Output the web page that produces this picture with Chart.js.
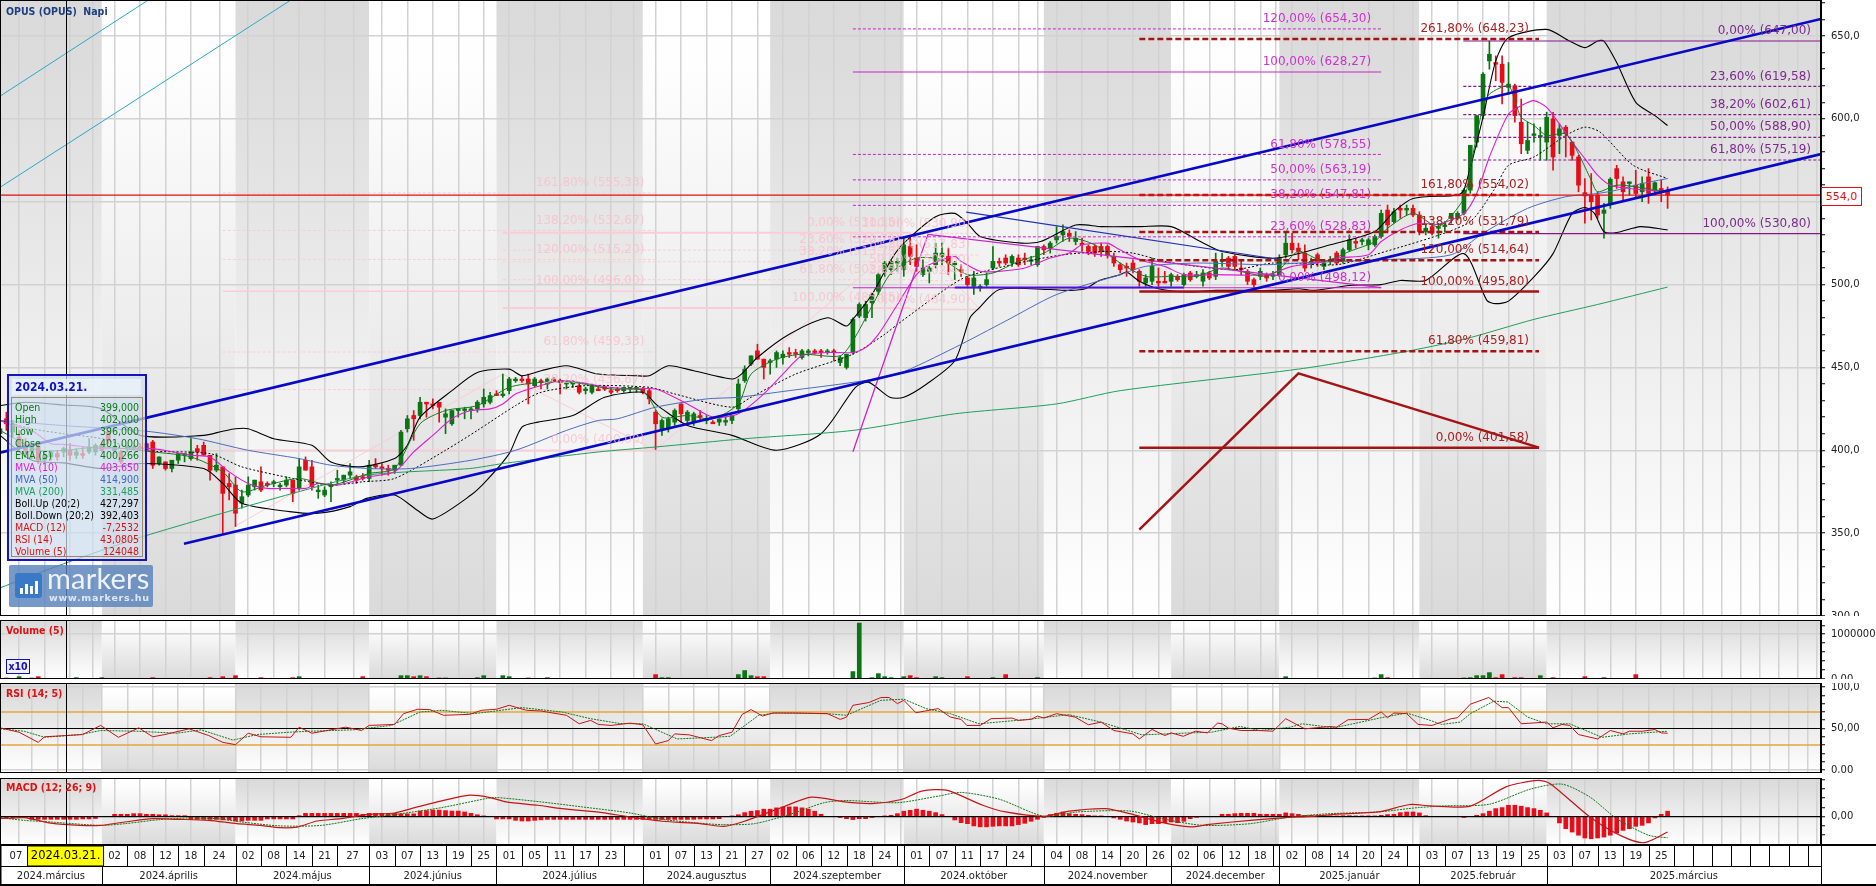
<!DOCTYPE html>
<html>
<head>
<meta charset="utf-8">
<title>OPUS (OPUS) Napi</title>
<script src="https://cdn.jsdelivr.net/npm/chart.js@4"></script>
<style>
html, body { margin: 0; padding: 0; background: #fff; overflow: hidden; }
canvas { position: absolute; left: 0; }
#mainChart { top: 0; }
#volChart { top: 620px; }
#rsiChart { top: 683px; }
#macdChart { top: 778px; }
#stripChart { top: 844px; }
.tag { position: absolute; font: bold 10.5px "DejaVu Sans Condensed", "DejaVu Sans", sans-serif; color: #e01010; white-space: pre; }
#priceBox { position: absolute; left: 1821px; top: 187px; width: 39px; height: 17px; border: 1px solid #e01010; background: #fff; color: #e01010; font: 11px/17px "DejaVu Sans", sans-serif; text-align: center; }
#x10 { position: absolute; left: 6px; top: 659px; width: 22px; height: 13px; border: 1px solid #1010c0; color: #1010c0; background: #f0f0f5; font: bold 10.5px/13px "DejaVu Sans Condensed", sans-serif; text-align: center; }
#info { position: absolute; left: 7px; top: 374px; width: 136px; height: 183px; border: 2px solid #1414c0; background: rgba(205,222,238,.72); }
#infoDate { position: absolute; left: 3px; top: 3px; width: 129px; height: 16px; background: rgba(235,243,250,.8); color: #1010c8; font: bold 12px/16px "DejaVu Sans Condensed", sans-serif; text-indent: 3px; }
#infoRows { position: absolute; left: 2px; top: 21px; width: 130px; height: 158px; border: 1px solid #a08468; }
.row { position: absolute; left: 3px; right: 3px; height: 12px; font: 10.5px/12px "DejaVu Sans Condensed", sans-serif; white-space: nowrap; display: flex; justify-content: space-between; }
#logo { position: absolute; left: 9px; top: 565px; width: 144px; height: 42px; background: rgba(88,130,188,.82); border-radius: 2px; color: #fff; }
#logoIcon { position: absolute; left: 6px; top: 8px; width: 27px; height: 25px; background: #3a78c8; border-radius: 3px; }
#logoIcon i { position: absolute; bottom: 4px; width: 3px; background: #fff; }
#logoName { position: absolute; left: 38px; top: -5px; font: 400 29px/36px Lato, "Open Sans", sans-serif; letter-spacing: .2px; color: #eef3fa; }
#logoUrl { position: absolute; left: 40px; top: 27px; font: bold 9.5px/12px "DejaVu Sans", sans-serif; letter-spacing: .75px; color: #dfe8f4; }
</style>
</head>
<body>
<canvas id="mainChart" width="1876" height="616"></canvas>
<canvas id="volChart" width="1876" height="59"></canvas>
<canvas id="rsiChart" width="1876" height="90"></canvas>
<canvas id="macdChart" width="1876" height="67"></canvas>
<canvas id="stripChart" width="1876" height="42"></canvas>

<div class="tag" style="left:6px;top:5px;color:#1c3f80">OPUS (OPUS)  Napi</div>
<div class="tag" style="left:6px;top:624px">Volume (5)</div>
<div class="tag" style="left:6px;top:687px">RSI (14; 5)</div>
<div class="tag" style="left:6px;top:781px">MACD (12; 26; 9)</div>
<div id="x10">x10</div>
<div id="priceBox">554,0</div>

<div id="info">
  <div id="infoDate">2024.03.21.</div>
  <div id="infoRows"></div>
</div>
<div id="logo">
  <div id="logoIcon"><i style="left:5px;height:6px"></i><i style="left:10px;height:10px"></i><i style="left:15px;height:8px"></i><i style="left:20px;height:13px"></i></div>
  <div id="logoName">markers</div>
  <div id="logoUrl">www.markers.hu</div>
</div>

<script>
// ---- candles, one entry per trading day
const opens = [
410,419,411,408,403,399,402,394,396,398,
399,400,397,398,399,399,403,411,400,399,
401,401,402,404,405,392,393,389,394,397,
395,401,403,397,388,390,380,379,368,373,
378,381,380,380,378,379,382,377,394,390,
375,373,378,382,382,385,384,384,383,391,
390,389,388,391,413,421,421,429,428,429,
420,416,424,424,424,425,428,429,434,433,
436,442,443,443,439,442,440,443,442,440,
440,439,436,435,437,438,436,437,436,437,
437,437,436,423,413,413,417,428,418,417,
421,418,417,417,417,418,425,442,452,460,
455,453,455,456,459,459,456,459,460,460,
459,460,453,450,459,481,480,489,496,508,
509,513,509,523,516,506,508,512,517,517,
512,509,504,499,498,500,510,514,516,513,
516,516,514,512,523,522,527,530,531,526,
525,523,523,523,523,517,512,511,513,508,
501,502,502,502,502,505,500,507,505,502,
507,505,514,516,517,510,508,503,505,506,
505,506,518,525,522,519,513,518,511,514,
519,514,521,526,526,524,524,529,545,538,
546,545,546,542,532,535,534,535,540,540,
543,557,586,602,635,634,633,619,620,598,
581,590,589,586,600,590,595,586,577,555.5,
554,554,543,549,570,562,561,560,556,565,
556.5,558,557];
const highs = [
415,423,418,412,407,404,404,399,400,400,
402,404,401,402,407,404,405,412,403,400,
403,403,404,405,406,396,393,394,398,398,
407,403,405,397,398,390,386,384,376,384,
382,390,381,382,380,384,382,395,396,394,
379,378,381,388,385,392,385,386,394,395,
392,391,391,412,421,424,432,429,431,429,
425,424,425,426,426,430,437,435,436,446,
444,444,445,446,444,443,444,444,443,442,
442,440,438,440,439,439,438,438,438,438,
438,438,437,424,419,420,425,428,424,423,
424,421,418,419,420,421,443,451,457,464,
455,455,460,460,462,461,461,461,461,461,
461,461,457,458,480,489,490,495,507,514,
515,516,529,529,524,515,511,525,525,522,
514,512,505,508,500,507,523,516,518,518,
518,519,517,523,524,526,535,536,533,532,
528,524,524,525,524,519,513,513,515,509,
506,516,510,508,507,506,507,508,508,509,
508,519,519,517,518,514,509,504,510,507,
508,518,532,531,525,524,516,519,514,517,
520,522,530,528,528,528,530,545,548,546,
548,548,548,544,536,537,537,538,543,544,
558,584,602,628,647,638,638,634,621,612,
598,597,595,604,604,597,596,586,578,564,
567,556,549,564.5,572,565,562,569,565,570,
562,563,559];
const lows = [
406,412,408,400,398,395,392,392,394,394,
396,394,395,395,398,397,399,404,398,392,
399,400,400,399,389,391,388,387,392,393,
394,394,397,382,387,350,370,354,365,372,
376,375,378,378,376,378,369,376,388,376,
371,372,369,380,380,383,380,382,381,389,
385,385,386,391,411,406,419,420,425,417,
410,415,420,419,419,423,426,428,433,432,
434,441,441,428,438,437,437,441,434,437,
438,434,434,434,436,436,434,435,435,435,
435,434,428,400.5,409,411,415,417,415,415,
418,416,416,415,415,416,424,441,451,455,
443,446,450,452,456,456,455,457,458,456,
458,454,451,449,458,480,478,480,494,505,
506,508,505,512,508,505,501,510,512,506,
503,505,499,494,496,499,509,511,512,511,
511,512,512,511,518,519,525,526,526,524,
520,518,517,517,516,511,507,505,507,499,
499,500,499,501,499,502,499,502,504,499,
503,503,511,509,509,506,500,497,503,502,
503,505,516,519,515,508,510,511,509,512,
512,513,520,522,524,521,523,528,532,537,
540,542,541,530,530,530,528,532,537,539,
542,555,583,600,630,623,609,615,598,579,
579,586,575,575,569,579,577,575,556,537,
539,540,528,546,558,550,554,552,550,549,
554,550,546];
const closes = [
413,416,416,403,400,402,394,397,399,396,
401,397,399,397,402,403,400,406,402,393,
402,402,401,400,391,396,389,394,398,398,
399,399,397,388,391,374,378,362,372,379,
382,376,379,381,379,382,374,390,388,378,
376,376,379,383,385,387,382,383,391,390,
389,388,391,411,419,419,429,428,427,426,
422,424,425,425,425,429,432,433,433,434,
443,443,442,440,443,441,443,442,441,441,
441,435,437,439,436,437,435,436,438,438,
438,435,431,416,418,419,424,422,423,422,
420,419,416,419,418,421,440,449,457,455,
450,454,459,458,458,458,460,460,459,459,
460,459,456,458,479,488,488,494,506,513,
514,514,524,517,511,510,510,519,519,513,
513,508,500,504,499,503,514,513,513,517,
512,515,515,523,521,525,529,532,529,528,
524,520,519,520,518,513,509,510,509,502,
504,511,501,501,506,503,506,503,506,507,
504,514,515,511,511,509,502,500,508,504,
506,516,525,521,520,510,514,514,513,515,
513,521,527,525,527,527,529,543,536,544,
545,546,542,532,534,531,535,536,543,543,
557,584,602,627,639,633,622,621,602,585,
587,591,590,601,577,594,591,578,560,553.5,
550,542,545,563.6,564,556,562,555,561,555,
561.5,555.5,554];

const emaDays = [0,6,10,16,24,30,35,38,42,47,52,58,62,66,70,75,80,85,90,96,101,104,108,112,116,118,122,126,132,134,137,140,144,148,152,156,160,164,168,172,176,180,184,188,192,196,199,201,204,208,212,216,218,222,226,230,231,232,233,234,237,238,239,241,243,246,248,250,251,254,257,262];
const emaVals = [412,400,400,402,399,396,387,375,379,383,379,386,389,416,424,427,438,441,441,437,436,420,421,419,428,446,455,458,457,466,487,507,516,515,506,507,514,519,528,524,513,505,505,505,510,507,505,509,520,514,520,526,534,543,535,552,570,590,607,615,620,611,601,596,590,591,579,563,556,560,559,556];

const mva10Days = [0,2,5,8,10,16,24,30,33,36,39,42,45,48,50,53,58,62,65,68,71,74,77,79,81,84,88,91,94,99,103,108,112,116,120,123,126,130,134,136,138,141,144,146,150,151,154,157,161,165,168,170,174,175.5,179,183,186,191,199,203,207,210,215,217,220,223,226,230,232,234,237,239,241,243,245,247,249,251,253,256,262];
const mva10Vals = [418,415,412,404,403.6,401,401,397,396,387,380,377,377,377,380,379,384,387,399,409,419,424,425,428,434,438,442,441,439,437,437,428,420,422,434,446,457,459,459,462,470,488,506,512,517,514,508,508,510,516,519,524,525,522,515,511,506,506,506,511,513,516,518,526,533,537,536.4,543,555,577,603,608,611,607,597,586,576,566,560,558,556];

const mva50Days = [0,10,23,31,39,47,52,58,64.5,74,81,89,94,97,103,111,116,124,134,141,150,158,166,176,180,188,199,204,217,228,233,240,246,251,254,258,262];
const mva50Vals = [418,414.9,411.5,407,400,395,391,389,389,394,400,412,418,419,426,431,432,436,441,446,462,478,494,506,511,513,512,513,515,518,531,546,553,555,557,561,564];

const mva200Days = [0,10,22.5,46,57.6,73.8,79,94,103,117,134,150,166,176,204,220,230,241,251,262];
const mva200Vals = [317,331.5,348,374,385,389,392,399,402,407,412,422,428,436,449,459,467,479,488,498.5];

// ---- Bollinger bands and their middle line
const bollUpDays = [0,4,10,16,22,32,35,37,39,43,49,52,56.5,62,64,66,71,75,80,82,85,89,94,100,102,105,109,115,116.5,119,124,130,133,134,137,140,142,147,150,152,154,160.5,163.5,169,173,179,184,188.6,192,200.5,209,216,219,222,229,230,233,235,237,243,246.6,249,251,252,254,257,260,262];
const bollUpVals = [427,429,427.3,425,409,409,411.5,413,413,407,403,393,390,395,403,420,436,447,449,445,448,451,446,445,445,451,448,443,446,456,470,480,475,479,494,515,525,541,543,537,529,525,526,536,535,535,535,526,520,516,524,532,544,552,554,557,601,635,649,654,647,643,647,647,634,610,602,596];
const bollDownDays = [0,5,10,16,22,32,35,38,45.5,50,55,57.6,62,65.5,68,74,76.5,80,82,84.5,90,95,101,103,104,108,115,122,129,134.4,136.5,139.8,142,145.6,150,152.4,153.6,157,165,168,170.5,172.8,176,177,179,182,186.5,191,200,204,206.6,212,217,220,224,230,233.6,235,237,241,244,247,249,250.5,252,254,257.7,262];
const bollDownVals = [409,394,392.4,389,392,389,380,368,363,362,366,371,373,364,358.5,373,382,398,414,417,421,432,435,428,425,415,409,400,410,438,441,432,432,440,454,480,485,497,497,496.5,497.5,502.6,506,507.6,502,497.5,495.5,496.5,496.5,497.5,496.5,499.5,500,502.5,502.5,518.7,490.5,488.5,490,504.6,518.7,543,546.5,543,532,531.4,535,533];
const bollMidDays = [0,5,10,16,22,33,38,46,52,57,62,70,75,81,85,92,102,106,115,118,125,134,139,141,149,152,160,167,174,178,183,188,194,200,210,216,230.6,234.7,237,241,246,249,251.4,256.6,262];
const bollMidVals = [418,413,410,407,400,398,390,383,379,381,383,400,412,427,435,439,438,434,426,432,446,458,470,476,498.5,505,513,518,520,519,514,511,509,513,512,518,537,557,572,577,590,595,592,572,564];

// ---- drawn trend lines
const upperChannelDays = [0,286.1];
const upperChannelVals = [398.6,660.3];
const lowerChannelDays = [28.9,286.1];
const lowerChannelVals = [343.6,578.7];
const tealOneDays = [0,23.3];
const tealOneVals = [613.7,671.75];
const tealTwoDays = [0,45.7];
const tealTwoVals = [558.7,671.75];
const thinBlueDays = [151.8,200.8];
const thinBlueVals = [543.7,515.3];
const flatBlueDays = [150,186];
const flatBlueVals = [498.3,498.3];
const lastPrice = 554;
const priceLineDays = [0,286.1];

// ---- fibonacci sets
const redFibDays = [179,241.8];
const redFibVals = [648.23,554.02,531.79,514.64,495.80,459.81,401.58];
const redFibLabels = ["261,80% (648,23)","161,80% (554,02)","138,20% (531,79)","120,00% (514,64)","100,00% (495,80)","61,80% (459,81)","0,00% (401,58)"];
const redFibSolid = [495.80,401.58];
const redLegDays = [179,204,241.8];
const redLegVals = [352.1,446.4,401.58];

const magentaFibDays = [134,217];
const magentaFibVals = [654.30,628.27,578.55,563.19,547.81,528.83,498.12];
const magentaFibLabels = ["120,00% (654,30)","100,00% (628,27)","61,80% (578,55)","50,00% (563,19)","38,20% (547,81)","23,60% (528,83)","0,00% (498,12)"];
const magentaFibSolid = [628.27,498.12];
const magentaLegDays = [134,145.8,217];
const magentaLegVals = [399.1,530.3,498.2];

const purpleFibDays = [229.9,286.1];
const purpleFibVals = [647.00,619.58,602.61,588.90,575.19,530.80];
const purpleFibLabels = ["0,00% (647,00)","23,60% (619,58)","38,20% (602,61)","50,00% (588,90)","61,80% (575,19)","100,00% (530,80)"];
const purpleFibSolid = [647.00,530.80];

const paleOneDays = [35,102.8];
const paleOneVals = [555.33,532.67,515.20,496.00,459.33,436.67,400.00];
const paleOneLabels = ["161,80% (555,33)","138,20% (532,67)","120,00% (515,20)","100,00% (496,00)","61,80% (459,33)","38,20% (436,67)","0,00% (400,00)"];
const paleOneSolid = [496.00,400.00];
const paleOneLegDays = [35,79,103];
const paleOneLegVals = [350,446,400];

const paleTwoDays = [79,143];
const paleTwoVals = [531.35,520.79,513.75,502.95,485.85];
const paleTwoLabels = ["0,00% (531,35)","23,60% (520,79)","38,20% (513,75)","61,80% (502,95)","100,00% (485,85)"];
const paleTwoSolid = [531.35,485.85];
const paleTwoLegDays = [103,143,154];
const paleTwoLegVals = [400.4,530,485];

const paleThreeDays = [136,154];
const paleThreeVals = [530.90,517.83,508.60,502.41,484.90];
const paleThreeLabels = ["100,00% (530,90)","61,80% (517,83)","50,00% (508,60)","38,20% (502,41)","0,00% (484,90)"];
const paleThreeSolid = [530.90,484.90];

// ---- volume, up days and down days
const volUpDays = [3,12,16,47,63,64,66,70,75,76,79,80,86,104,105,116,117,118,134,135,137,138,139,140,142,147,148,156,163,202,216,217,230,231,232,233,234,242,252];
const volUpVals = [52000,30000,30000,52000,75000,75000,75000,23000,30000,75000,75000,52000,30000,30000,30000,98000,189000,75000,166000,1250000,30000,120000,52000,30000,52000,52000,30000,30000,30000,52000,23000,98000,23000,30000,75000,75000,143000,75000,30000];
const volDownDays = [1,5,6,24,33,35,37,41,46,57,65,67,69,83,103,119,120,143,144,152,158,218,235,236,238,239,244,249,257];
const volDownVals = [23000,23000,52000,30000,30000,52000,75000,30000,30000,52000,52000,52000,23000,23000,98000,52000,52000,75000,30000,52000,98000,30000,30000,98000,30000,30000,30000,52000,98000];

// ---- RSI
const rsiDays = [0,3,6,7,10.4,13,15.8,18.6,21.8,24,25.9,29.7,32.8,35,37,39,41,45.7,47,49,54.3,56.8,58,62,63.4,65.6,67.5,69.7,73.8,75.7,78,80,82.7,85,89,91,92.8,94,96,99,101,103,105,106,108.3,111.8,113,115,116.6,118,119.8,121.4,125,130,132,133,134,136.5,138.4,139.7,141,142,143.9,147.4,149.3,151,151.9,154,155.7,159,160,162,163,164,166,168.9,171,173,175,178,179,181,183,184,185.9,187.8,189.7,191.3,192,193,195,197.7,200,202,205,209,210,211.8,215,217,218,219,221,222.8,225,228,229,231,233.9,236,237,239,243,244,245.4,246.6,248,251,253,255,256,258,260,261,262];
const rsiVals = [50.8,45.5,33.3,40,41.5,42.7,53.7,39.4,50.8,40,42.7,49.6,41.5,33.3,30.5,44.3,40,39.4,51.6,44.3,51.6,47.6,53.7,54.9,67.9,73.2,72.8,65.9,67.1,72,73.2,78,72,71.1,65.9,55.7,59.8,54.9,53.7,56.5,54.5,31.3,35.4,43.5,42.3,35.4,41.5,45.5,67,72.8,65,68.7,68.7,67.9,61,63.8,78,81.3,87.4,87.4,80,84,69,74,63.8,61,53.7,53.7,61.8,62.6,59.8,61,65,62.6,67.9,63.8,54.5,57.7,47.6,43.5,37.4,48.8,41.5,44.7,40.6,46.7,44.7,56.5,55.7,50.4,47.6,47.6,46.7,61.8,49.6,52.4,51.6,60.6,61,70,63,68.7,67.9,54.9,53.7,61.8,63,79.3,87.4,75.2,75.2,55.7,57.7,50.8,54.9,53.7,42.7,37.4,47.6,43.5,46.7,46.7,48.8,44.7,44.3];
const rsiSignalDays = [0,3.8,7,12.6,15.8,21.5,27.8,31.6,36.6,40.4,45.4,48.6,55.5,61.5,66,69.4,74.5,82,88.3,92.8,97.4,101,106.4,112,114.7,119.2,121.8,130,133,138.4,142,145.5,149.3,153.8,161.5,167.9,173,179.4,187,190.3,194.8,198,202.7,204.6,209.6,217,221,224.7,226.5,229.4,231,234.7,236.9,240,243,246.6,251.7,256,262];
const rsiSignalVals = [49.6,46.7,39.4,42.7,47.6,46.7,44.3,48.4,36,42.7,45.5,46.7,48.4,53.7,69.9,72,67.9,75.2,69.9,61.8,56,55.7,37.4,39.4,40.6,65.9,68.7,67.9,65.9,84,85.4,74,67.9,55.7,61,66.7,57.7,42.3,44.7,45.5,52.4,47.6,51.6,55.7,50.8,63,68.7,59.8,54.9,57.7,67.9,83,82,63.8,55.7,55.7,39.4,43.5,46.7];
const rsiLevels = [70,50,30];

// ---- MACD
const macdDays = [0,3.8,8,12.6,15.8,19.6,24,27.8,32.8,37.2,41,44,46.7,49.8,53.6,58,62,65.6,69.4,73.8,77,79.5,84.5,88.3,94.6,99,104,110,113.7,116.6,123,127.5,132.7,137,141.6,144.8,148.7,154.4,158,164,168,173.7,177.5,182.7,187,190,196.4,202,206,209.6,216.5,221.5,224.7,231,236.6,241.6,243.5,249.8,254.8,258.3,262];
const macdVals = [-2.2,-1.1,-6.9,-9.4,-9.4,-5.8,-2.2,-2.9,-4,-7.6,-9.4,-11.9,-11.2,-4.7,-2.2,2.5,3.9,10.4,16.9,23,20.5,15.8,12.2,8.6,4.3,-0.4,-5,-7.6,-10.4,-5.8,10.4,21,15.8,14,18.4,27.4,28.4,12.2,5,0.4,6,8.6,3.2,-6.5,-11,-8.3,-4,-1,0.3,2.5,5,13,11.5,11.2,32,39,35.6,-0.4,-21,-28,-16.6];
const macdSignalDays = [0,3.8,8,15.8,19.6,25,29.7,34,38,44,50.5,56.8,63,69.4,76.4,78,85,91.5,99,104,109,113.4,118.5,124,129.5,133,141,147.4,151,157,164,169.2,177.5,183,189,196.4,202.7,209,216.5,222.8,227,234,240.4,245.4,249.8,254,259,262];
const macdSignalVals = [-1.1,-4,-5.8,-9.4,-7.6,-3.3,-1.5,-2.2,-5.8,-10,-9.4,-2.2,3.2,9.7,19.4,20.5,15.8,10.4,3.9,-2.9,-6.5,-8.6,-7.6,2.2,15,17.3,15,22,26,18.7,0.4,5,6,-2.9,-9.4,-7.6,-0.4,3.2,5,9.7,11.5,13.3,29.5,34.9,21,-2.2,-20,-22.7];
const macdHist = [
-1.5,-1.5,-1.5,-1,-1,-2.9,-2.9,-2.9,-2.9,-2.9,
-2.9,-2.9,-2.9,-2.5,-2.5,-2,0,0,2.5,2.5,
2.5,3.2,3.2,2.5,2.5,2,2,1,1,1,
-3,-3,-3,-3,-3,-3.5,-3.5,-4.7,-4.7,-4,
-4,-4,-2.5,-2.5,-2.5,-2.5,-2.5,1,3.5,3.5,
3.5,3.5,3.5,3.5,3.5,3.5,3.5,2.5,3.5,3.5,
3.5,3.5,3.5,3,3,3,6,6.5,7,7,
6.5,6,6,5,3.5,2,0.5,0,-2.5,-2.5,
-2.5,-4,-4.7,-4.7,-4,-3.5,-3,-3,-3,-3,
-3,-3,-3,-3,-3,-3,-3,-3,-3,-3,
-3,-3,-3,-3,-3,-3,-3,-3,-3,-2.9,
-2.5,-2.5,-2.5,-2.2,0,0.5,2,4.3,5.8,6.5,
8,8,9.4,10.4,10.4,10.4,9.4,8,5.8,2.5,
0,0,-1,-2.2,-3.2,-2.2,-2.2,-1,0,0.7,
1.4,3.2,5.8,6.8,8,6.8,5.8,4.3,2.2,0,
-3.6,-6.5,-7.6,-10,-11,-11,-10.4,-10,-10,-10,
-8.6,-7.2,-5,-2.9,-0.4,2.2,3.6,5,3.2,2.5,
2.2,1.4,0.7,0.7,0,-1.4,-2.9,-4.7,-5.8,-6.8,
-8.6,-7.6,-7.6,-6.5,-5.8,-6.5,-5,-2.2,-0.7,0,
0,0,2.5,2.5,3.2,3.6,3.6,3.6,2.5,2.5,
2.5,2.5,4,3.2,2.5,1.4,1.4,1,0.7,0.7,
0.7,1,1,0.7,0.7,0.5,0.5,1.4,2.2,2.5,
4.3,5,5,4,1,0,0,0,0,0,
-1,0,1.4,3.2,5.8,8.6,9.7,12.2,12.2,11.2,
9.7,8.6,6.8,4,0,-6.8,-13,-16.6,-20,-23,
-23.8,-23,-22,-20,-17.6,-14.8,-13,-10.4,-9.4,-6.8,
-1.4,2.5,5.8];

// ---- time axis
const gridDays = [5,9,13,16,20,24,28,32,37,41,45,49,53,58,62,66,70,74,78,82,86,90,94,98,101,105,109,113,117,121,125,129,133,137,141,142,146,150,154,158,162,164,168,172,176,180,184,188,192,196,200,201,205,209,213,217,221,223,227,231,235,239,243,247,251,255,259,263,266,269,272,275,278,281,284];
const dateCellDays = [0,16,20,24,28,32,37,41,45,49,53,58,62,66,70,74,78,82,86,90,94,101,105,109,113,117,121,125,129,133,137,142,146,150,154,158,164,168,172,176,180,184,188,192,196,201,205,209,213,217,223,227,231,235,239,243,247,251,255,259];
const dateCellEnds = [5,20,24,28,32,36.8,41,45,49,53,57.8,62,66,70,74,78,82,86,90,94,98,105,109,113,117,121,125,129,133,137,141,146,150,154,158,162,168,172,176,180,184,188,192,196,200,205,209,213,217,221,227,231,235,239,243,247,251,255,259,263];
const dateCellLabels = ["07","02","08","12","18","24","02","08","14","21","27","03","07","13","19","25","01","05","11","17","23","01","07","13","21","27","02","06","12","18","24","01","07","11","17","24","04","08","14","20","26","02","06","12","18","02","08","14","20","24","03","07","13","19","25","03","07","13","19","25"];
const monthDays = [0,16,37,58,78,101,121,142,164,184,201,223,243];
const monthLabels = ["2024.március","2024.április","2024.május","2024.június","2024.július","2024.augusztus","2024.szeptember","2024.október","2024.november","2024.december","2025.január","2025.február","2025.március"];
const dayMax = 286.1;
const crossDay = 10.3;
const crossDate = "2024.03.21.";

// ---- info box
const infoLabels = ["Open","High","Low","Close","EMA (5)","MVA (10)","MVA (50)","MVA (200)","Boll.Up (20;2)","Boll.Down (20;2)","MACD (12)","RSI (14)","Volume (5)"];
const infoValues = ["399,000","402,000","396,000","401,000","400,266","403,650","414,900","331,485","427,297","392,403","-7,2532","43,0805","124048"];
const infoColors = ["#0c7a14","#0c7a14","#0c7a14","#0c7a14","#0c7a14","#e01cd0","#4068c0","#18a060","#000","#000","#e01010","#e01010","#e01010"];

const UP = "#0b7514", DOWN = "#e80c18";
const RED = "#a51414", MAGENTA = "#cc22cc", PURPLE = "#86188c", PALE = "#fbccd6";
const FONT = '"DejaVu Sans", sans-serif';

Chart.defaults.font.family = FONT;
Chart.defaults.font.size = 10;
Chart.defaults.color = "#222";

infoLabels.forEach((label, i) => {
    const row = document.createElement("div");
    row.className = "row";
    row.style.top = (3 + i * 12) + "px";
    row.style.color = infoColors[i];
    row.innerHTML = "<span>" + label + "</span><span>" + infoValues[i] + "</span>";
    document.getElementById("infoRows").appendChild(row);
});

function pairs(days, vals){
    return days.map((d, i) => ({x: d, y: vals[i]}));
}

function line(days, vals, color, width, order, dash){
    return {
        type: "line",
        data: pairs(days, vals),
        borderColor: color,
        borderWidth: width,
        borderDash: dash || [],
        pointRadius: 0,
        tension: 0,
        order: order
    };
}

function smooth(days, vals, color, width, order, dash){
    let d = line(days, vals, color, width, order, dash);
    d.tension = 0.25;
    return d;
}

function fibLines(days, vals, solid, color, width, solidWidth, dash, order){
    return vals.map(v => {
        let isSolid = solid.includes(v);
        return line(days, [v, v], color, isSolid ? solidWidth : width, order, isSolid ? [] : dash);
    });
}

function barSet(days, ranges, colors, thickness, order){
    return {
        type: "bar",
        data: days.map((d, i) => ({x: d, y: ranges[i]})),
        backgroundColor: colors,
        barThickness: thickness,
        grouped: false,
        order: order
    };
}

// shaded month columns, the gradient turns over each month
const monthBands = {
    id: "monthBands",
    beforeDraw(chart){
        const {ctx, chartArea: a, scales: {x}} = chart;
        monthDays.forEach((d, i) => {
            const left = x.getPixelForValue(d);
            const right = x.getPixelForValue(i + 1 < monthDays.length ? monthDays[i + 1] : dayMax);
            const g = ctx.createLinearGradient(0, a.top, 0, a.bottom);
            g.addColorStop(0, i % 2 ? "#ffffff" : "#dadada");
            g.addColorStop(0.1, i % 2 ? "#fefefe" : "#dcdcdc");
            g.addColorStop(1, i % 2 ? "#dadada" : "#ffffff");
            ctx.fillStyle = g;
            ctx.fillRect(left, a.top, right - left, a.bottom - a.top);
        });
    }
};

// crosshair and black frame of a panel
const panelFrame = {
    id: "panelFrame",
    afterDraw(chart){
        const {ctx, chartArea: a, scales: {x}} = chart;
        ctx.save();
        ctx.strokeStyle = "#000";
        ctx.lineWidth = 1;
        const cx = Math.round(x.getPixelForValue(crossDay)) + 0.5;
        ctx.beginPath();
        ctx.moveTo(cx, a.top);
        ctx.lineTo(cx, a.bottom);
        ctx.stroke();
        ctx.lineWidth = 2;
        ctx.strokeRect(a.left, a.top, a.right - a.left, a.bottom - a.top);
        ctx.restore();
    }
};

function fibText(chart, days, vals, labels, color){
    const {ctx, scales: {x, y}} = chart;
    ctx.save();
    ctx.font = "12px " + FONT;
    ctx.fillStyle = color;
    ctx.textAlign = "right";
    ctx.textBaseline = "middle";
    vals.forEach((v, i) => {
        ctx.fillText(labels[i], x.getPixelForValue(days[1]) - 10, y.getPixelForValue(v) - 10);
    });
    ctx.restore();
}

const fibLabelsPlugin = {
    id: "fibLabels",
    afterDatasetsDraw(chart){
        fibText(chart, paleOneDays, paleOneVals, paleOneLabels, "rgba(250,190,205,.8)");
        fibText(chart, paleTwoDays, paleTwoVals, paleTwoLabels, "rgba(250,190,205,.8)");
        fibText(chart, paleThreeDays, paleThreeVals, paleThreeLabels, "rgba(250,190,205,.8)");
        fibText(chart, magentaFibDays, magentaFibVals, magentaFibLabels, "#d030d0");
        fibText(chart, redFibDays, redFibVals, redFibLabels, "#a82020");
        fibText(chart, purpleFibDays, purpleFibVals, purpleFibLabels, "#7c2a8c");
    }
};

function panelOptions(yMin, yMax, yTicks, labelFor, gridAt){
    return {
        responsive: false,
        animation: false,
        devicePixelRatio: 1,
        layout: {padding: 0},
        plugins: {legend: {display: false}, tooltip: {enabled: false}},
        scales: {
            x: {
                type: "linear",
                min: 0,
                max: dayMax,
                offset: false,
                border: {display: false},
                grid: {color: "#d2d2d2", lineWidth: 1.5, drawTicks: false},
                ticks: {display: false},
                afterBuildTicks: axis => { axis.ticks = gridDays.map(value => ({value})); }
            },
            y: {
                type: "linear",
                position: "right",
                min: yMin,
                max: yMax,
                border: {color: "#000", width: 1},
                grid: {
                    lineWidth: 1.5,
                    tickLength: 4,
                    tickColor: "#000",
                    tickWidth: 1,
                    color: c => gridAt.includes(c.tick.value) ? "#d2d2d2" : "rgba(0,0,0,0)"
                },
                ticks: {
                    autoSkip: false,
                    maxRotation: 0,
                    padding: 6,
                    color: "#222",
                    font: {size: 10},
                    callback: labelFor
                },
                afterBuildTicks: axis => { axis.ticks = yTicks.map(value => ({value})); },
                afterFit: axis => { axis.width = 55; axis.paddingTop = 0; axis.paddingBottom = 0; }
            }
        }
    };
}

function stepTicks(from, to, step){
    let out = [];
    for(let v = from; v <= to; v += step) out.push(v);
    return out;
}

const allDays = opens.map((o, i) => i);
const candleColors = opens.map((o, i) => closes[i] >= o ? UP : DOWN);

new Chart("mainChart", {
    type: "bar",
    data: {
        datasets: [
            ...fibLines(paleOneDays, paleOneVals, paleOneSolid, PALE, 1, 1.5, [3, 2], 12),
            ...fibLines(paleTwoDays, paleTwoVals, paleTwoSolid, PALE, 1, 2, [3, 2], 12),
            ...fibLines([143, 154], paleThreeVals, [484.90], PALE, 1, 1.5, [3, 2], 12),
            line(paleOneLegDays, paleOneLegVals, PALE, 1, 12),
            line(paleTwoLegDays, paleTwoLegVals, PALE, 1, 12),
            line(tealOneDays, tealOneVals, "#2aa8c8", 1, 11),
            line(tealTwoDays, tealTwoVals, "#2aa8c8", 1, 11),
            barSet(allDays, allDays.map(i => [lows[i], highs[i]]), candleColors, 1, 9),
            barSet(allDays, allDays.map(i => [opens[i], closes[i]]), candleColors, 4, 8),
            smooth(mva200Days, mva200Vals, "#1fa05a", 1, 7),
            smooth(mva50Days, mva50Vals, "#4a6cc0", 1, 7),
            smooth(bollUpDays, bollUpVals, "#000", 1.1, 7),
            smooth(bollDownDays, bollDownVals, "#000", 1.1, 7),
            smooth(bollMidDays, bollMidVals, "#000", 1, 7, [2, 2]),
            smooth(emaDays, emaVals, "#167a1e", 1, 6),
            smooth(mva10Days, mva10Vals, "#e01cd0", 1.1, 6),
            ...fibLines(magentaFibDays, magentaFibVals, magentaFibSolid, MAGENTA, 1, 1.1, [3, 2], 5),
            line(magentaLegDays, magentaLegVals, MAGENTA, 1.3, 5),
            ...fibLines(purpleFibDays, purpleFibVals, purpleFibSolid, PURPLE, 1.2, 1.2, [3, 2], 5),
            ...fibLines(redFibDays, redFibVals, redFibSolid, RED, 2.5, 2.5, [6, 3], 4),
            line(redLegDays, redLegVals, RED, 2.5, 4),
            line(priceLineDays, [lastPrice, lastPrice], "#e01010", 1.2, 3),
            line(thinBlueDays, thinBlueVals, "#2030b8", 1.2, 3),
            line(flatBlueDays, flatBlueVals, "#4a10e0", 2, 3),
            line(upperChannelDays, upperChannelVals, "#0808c8", 2.7, 2),
            line(lowerChannelDays, lowerChannelVals, "#0808c8", 2.7, 2)
        ]
    },
    options: panelOptions(300, 671.75, stepTicks(300, 670, 10),
        v => v % 50 === 0 ? v.toFixed(1).replace(".", ",") : "",
        stepTicks(300, 650, 50)),
    plugins: [monthBands, panelFrame, fibLabelsPlugin]
});

new Chart("volChart", {
    type: "bar",
    data: {
        datasets: [
            barSet(volUpDays, volUpVals, UP, 4, 2),
            barSet(volDownDays, volDownVals, DOWN, 4, 2)
        ]
    },
    options: panelOptions(0, 1318000, stepTicks(0, 1200000, 200000),
        v => v === 1000000 ? "1000000" : (v === 0 ? "0,00" : ""),
        [1000000]),
    plugins: [monthBands, panelFrame]
});

new Chart("rsiChart", {
    type: "line",
    data: {
        datasets: [
            line([0, dayMax], [rsiLevels[0], rsiLevels[0]], "#e4a63c", 1.5, 5),
            line([0, dayMax], [rsiLevels[1], rsiLevels[1]], "#000", 1.2, 5),
            line([0, dayMax], [rsiLevels[2], rsiLevels[2]], "#e4a63c", 1.5, 5),
            line(rsiSignalDays, rsiSignalVals, "#107a18", 1, 3, [2, 1]),
            line(rsiDays, rsiVals, "#c81414", 1, 2)
        ]
    },
    options: panelOptions(-3.7, 104.9, stepTicks(0, 100, 10),
        v => v === 100 ? "100,0" : (v === 50 ? "50,00" : (v === 0 ? "0,00" : "")),
        [100, 0]),
    plugins: [monthBands, panelFrame]
});

new Chart("macdChart", {
    type: "bar",
    data: {
        datasets: [
            barSet(allDays, macdHist, DOWN, 4, 6),
            line([0, dayMax], [0, 0], "#000", 1.2, 5),
            smooth(macdSignalDays, macdSignalVals, "#107a18", 1, 3, [2, 1]),
            smooth(macdDays, macdVals, "#c81414", 1.2, 2)
        ]
    },
    options: panelOptions(-30.5, 41.5, stepTicks(-30, 40, 10),
        v => v === 0 ? "0,00" : "",
        []),
    plugins: [monthBands, panelFrame]
});

// date row and month row under the panels
const timeRows = {
    id: "timeRows",
    afterDraw(chart){
        const {ctx, scales: {x}} = chart;
        const rowTop = 1, rowMid = 22, rowEnd = 40;
        const right = x.getPixelForValue(dayMax);
        const px = d => x.getPixelForValue(d);
        ctx.save();
        ctx.strokeStyle = "#000";
        ctx.fillStyle = "#222";
        ctx.textAlign = "center";
        ctx.textBaseline = "middle";
        ctx.lineWidth = 1;
        ctx.beginPath();
        gridDays.forEach(d => {
            ctx.moveTo(Math.round(px(d)) + 0.5, rowTop);
            ctx.lineTo(Math.round(px(d)) + 0.5, rowMid);
        });
        monthDays.forEach(d => {
            ctx.moveTo(Math.round(px(d)) + 0.5, rowMid);
            ctx.lineTo(Math.round(px(d)) + 0.5, rowEnd);
        });
        ctx.moveTo(0, rowMid + 0.5);
        ctx.lineTo(right, rowMid + 0.5);
        ctx.moveTo(right + 0.5, rowTop);
        ctx.lineTo(right + 0.5, rowEnd);
        ctx.stroke();
        ctx.lineWidth = 2;
        ctx.beginPath();
        ctx.moveTo(0, rowTop);
        ctx.lineTo(1876, rowTop);
        ctx.moveTo(0, rowEnd + 1);
        ctx.lineTo(1876, rowEnd + 1);
        ctx.moveTo(0.5, rowTop);
        ctx.lineTo(0.5, rowEnd);
        ctx.stroke();

        ctx.font = "10px " + FONT;
        dateCellDays.forEach((d, i) => {
            ctx.fillText(dateCellLabels[i], (px(d) + px(dateCellEnds[i])) / 2, (rowTop + rowMid) / 2 + 1);
        });
        monthDays.forEach((d, i) => {
            const end = i + 1 < monthDays.length ? monthDays[i + 1] : dayMax;
            ctx.fillText(monthLabels[i], (px(d) + px(end)) / 2, (rowMid + rowEnd) / 2 + 1);
        });

        const cx = px(crossDay);
        ctx.fillStyle = "#ffff00";
        ctx.fillRect(cx - 38, rowTop + 1, 76, rowMid - rowTop - 1);
        ctx.strokeStyle = "#000";
        ctx.lineWidth = 1;
        ctx.strokeRect(cx - 38, rowTop + 1, 76, rowMid - rowTop - 1);
        ctx.fillStyle = "#000";
        ctx.font = "11.5px " + FONT;
        ctx.fillText(crossDate, cx, (rowTop + rowMid) / 2 + 1);
        ctx.restore();
    }
};

new Chart("stripChart", {
    type: "bar",
    data: {datasets: []},
    options: {
        responsive: false,
        animation: false,
        devicePixelRatio: 1,
        layout: {padding: {right: 55}},
        plugins: {legend: {display: false}, tooltip: {enabled: false}},
        scales: {
            x: {type: "linear", min: 0, max: dayMax, offset: false, border: {display: false}, grid: {display: false}, ticks: {display: false}},
            y: {display: false}
        }
    },
    plugins: [timeRows]
});
</script>
</body>
</html>
